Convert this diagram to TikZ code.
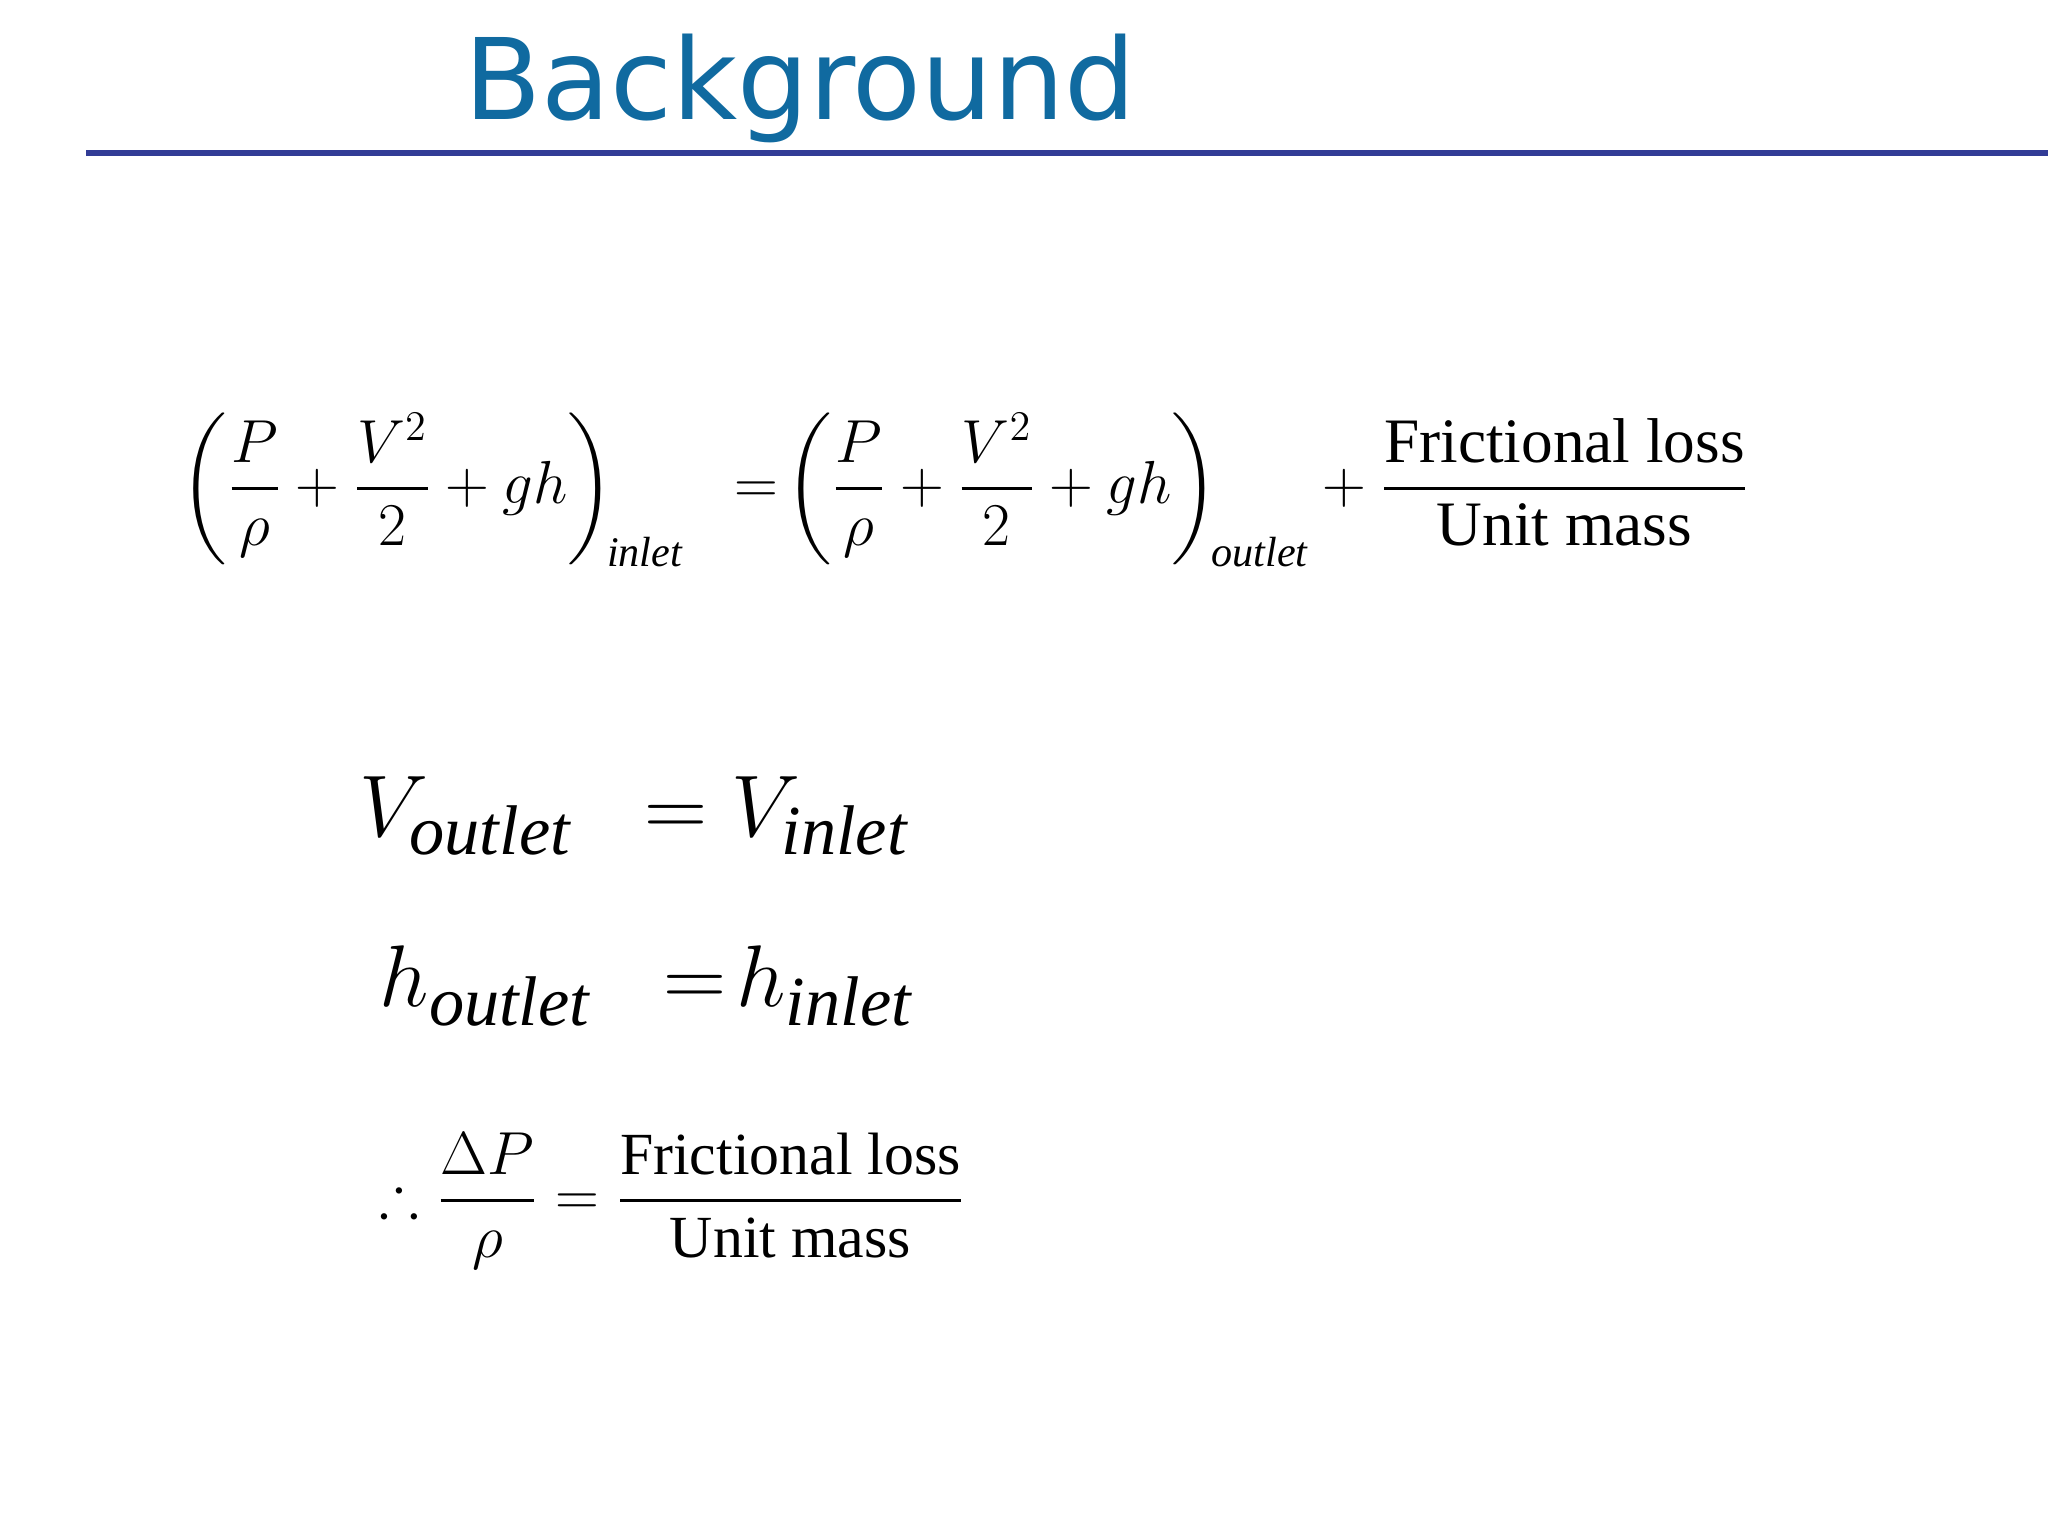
\documentclass[tikz,border=0pt]{standalone}
\usepackage{amsmath,amssymb}
\usepackage{fontspec}
\setmainfont{Liberation Serif}
\newfontfamily\titlefont{DejaVu Sans}
\definecolor{titleblue}{RGB}{16,106,160}
\definecolor{lineblue}{RGB}{50,60,150}
\newcommand{\sbt}[2]{\mbox{\fontsize{#1}{#1}\selectfont\itshape #2}}
\begin{document}
\begin{tikzpicture}[x=0.01cm,y=-0.01cm]
\useasboundingbox (0,0) rectangle (2048,1536);
\tikzset{eq/.style={anchor=west,inner sep=0pt}}
\node[anchor=center,text=titleblue,font=\titlefont\fontsize{32}{38}\selectfont] (title) at (800,88) {Background};
\coordinate (l1) at (86,153);
\coordinate (l2) at (2048,153);
\draw[lineblue,line width=1.6pt] (l1) -- (l2);
\node[eq,font=\fontsize{18}{22}\selectfont] (e1) at (180,490) {$\displaystyle
\left(\frac{P}{\rho}+\frac{V^2}{2}+gh\right)_{\!\sbt{12}{inlet}}
\;\;=\!\left(\frac{P}{\rho}+\frac{V^2}{2}+gh\right)_{\!\sbt{12}{outlet}}
+\frac{\text{Frictional loss}}{\text{Unit mass}}$};
\node[eq,font=\fontsize{30}{34}\selectfont] (e2) at (359,816) {$V_{\sbt{20}{outlet}}\;\;=V_{\sbt{20}{inlet}}$};
\node[eq,font=\fontsize{30}{34}\selectfont] (e3) at (379,986) {$h_{\sbt{20}{outlet}}\;\;=\!h_{\sbt{20}{inlet}}$};
\node[eq,font=\fontsize{17}{20}\selectfont] (e4) at (379,1201) {$\displaystyle\therefore\frac{\Delta P}{\rho}=\frac{\text{Frictional loss}}{\text{Unit mass}}$};
\end{tikzpicture}
\end{document}
